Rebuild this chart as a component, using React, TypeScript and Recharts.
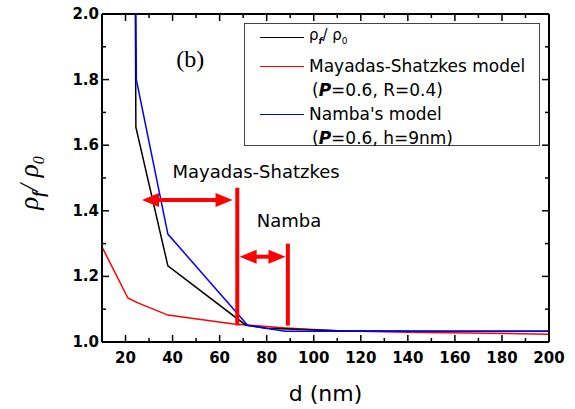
import React from 'react';
import { LineChart, Line, XAxis, YAxis, Legend, ReferenceLine, ReferenceDot } from 'recharts';

// measured ratio rho_f / rho_0
const measD = [23.8, 24.4, 38, 71, 80, 110, 150, 200];
const measRho = [2.6, 1.655, 1.232, 1.052, 1.042, 1.034, 1.033, 1.033];

// Mayadas-Shatzkes model (p=0.6, R=0.4)
const msD = [10, 21, 25, 38, 66, 88, 110, 140, 200];
const msRho = [1.29, 1.134, 1.12, 1.082, 1.055, 1.043, 1.034, 1.03, 1.024];

// Namba's model (p=0.6, h=9nm)
const nbD = [23.8, 24.6, 38, 72, 88, 110, 200];
const nbRho = [2.6, 1.8, 1.329, 1.05, 1.033, 1.033, 1.033];

const xTicks = [10, 20, 30, 40, 50, 60, 70, 80, 90, 100, 110, 120, 130, 140, 150, 160, 170, 180, 190, 200];
const yTicks = [1.0, 1.1, 1.2, 1.3, 1.4, 1.5, 1.6, 1.7, 1.8, 1.9, 2.0];

// thickness limits marked on the plot
const msLimit = 67.5;
const msLimitTop = 1.47;
const nbLimit = 89;
const nbLimitTop = 1.3;
const limitBase = 1.05;
const msArrow = { from: 27, to: 65.5, y: 1.433 };
const nbArrow = { from: 68.5, to: 88, y: 1.26 };

const toRows = (xs: number[], ys: number[]) => xs.map((d, i) => ({ d, v: ys[i] }));
const measData = toRows(measD, measRho);
const msData = toRows(msD, msRho);
const nbData = toRows(nbD, nbRho);

const RED = '#ff0000';
const SANS = '"DejaVu Sans", sans-serif';

const isMajorX = (v: number) => Math.round(v) % 20 === 0;
const isMajorY = (v: number) => Math.round(v * 10) % 2 === 0;

// tickSize and tickMargin are 0, so x/y sit on the plot edge; ticks point inward
function makeTick(side: 'bottom' | 'top' | 'left' | 'right', labels: boolean) {
  return function Tick(props: any) {
    const { x, y, payload } = props;
    const v = payload.value as number;
    const major = side === 'bottom' || side === 'top' ? isMajorX(v) : isMajorY(v);
    const len = major ? 7 : 4;
    let x2 = x;
    let y2 = y;
    if (side === 'bottom') y2 = y - len;
    else if (side === 'top') y2 = y + len;
    else if (side === 'left') x2 = x + len;
    else x2 = x - len;
    let label = null;
    if (labels && major) {
      if (side === 'bottom' && v !== 10)
        label = <text x={x} y={y + 21} textAnchor="middle" fontFamily={SANS} fontWeight="bold" fontSize={15} fill="#000">{v}</text>;
      if (side === 'left')
        label = <text x={x - 3} y={y + 5} textAnchor="end" fontFamily={SANS} fontWeight="bold" fontSize={15} fill="#000">{v.toFixed(1)}</text>;
    }
    return (
      <g>
        <line x1={x} y1={y} x2={x2} y2={y2} stroke="#000" strokeWidth={1.5} />
        {label}
      </g>
    );
  };
}

function DoubleArrow(props: any) {
  const { x1, y1, x2 } = props;
  const len = 17;
  const hw = 7;
  return (
    <g>
      <line x1={x1 + len - 2} y1={y1} x2={x2 - len + 2} y2={y1} stroke={RED} strokeWidth={4} />
      <polygon points={`${x1},${y1} ${x1 + len},${y1 - hw} ${x1 + len},${y1 + hw}`} fill={RED} />
      <polygon points={`${x2},${y1} ${x2 - len},${y1 - hw} ${x2 - len},${y1 + hw}`} fill={RED} />
    </g>
  );
}

function LegendBox() {
  const row = (color: string | null, label: React.ReactNode, key: string) => (
    <div key={key} style={{ display: 'flex', alignItems: 'center', height: 24 }}>
      <div style={{ width: 44, height: 0, borderTop: color ? `1.5px solid ${color}` : 'none', marginRight: color ? 5 : 8 }} />
      <span>{label}</span>
    </div>
  );
  const p = <b style={{ fontStyle: 'italic', fontFamily: SANS }}>P</b>;
  return (
    <div
      style={{
        width: 296, height: 123, border: '1px solid #444', background: '#fff',
        fontFamily: SANS, fontSize: 17, color: '#000', padding: '1px 0 0 15px', boxSizing: 'border-box',
        lineHeight: '24px',
      }}
    >
      {row('#000', <span style={{ fontSize: 15 }}>ρ<sub style={{ fontSize: 9, fontStyle: 'italic', fontWeight: 'bold' }}>f</sub>/ ρ<sub style={{ fontSize: 9 }}>0</sub></span>, 'a')}
      <div style={{ height: 5 }} />
      {row(RED, 'Mayadas-Shatzkes model', 'b')}
      {row(null, <span>({p}=0.6, R=0.4)</span>, 'c')}
      {row('#0000ff', "Namba's model", 'd')}
      {row(null, <span>({p}=0.6, h=9nm)</span>, 'e')}
    </div>
  );
}

function YTitle(props: any) {
  const { viewBox } = props;
  const cx = viewBox.x + 38;
  const cy = viewBox.y + viewBox.height / 2 + 5;
  return (
    <text
      transform={`translate(${cx},${cy}) rotate(-90)`}
      textAnchor="middle"
      fontFamily='"Liberation Serif", serif'
      fontStyle="italic"
      fontSize={27}
      fill="#000"
    >
      ρ<tspan fontSize={16} dy={6} fontWeight="bold">f</tspan>
      <tspan dy={-6}>/ ρ</tspan>
      <tspan fontSize={16} dy={6}>0</tspan>
    </text>
  );
}

export default function App() {
  const axisLine = { stroke: '#000', strokeWidth: 2 };
  return (
    <div style={{ position: 'absolute', left: 0, top: 0, background: '#fff' }}>
      <LineChart width={575} height={409} data={msData} margin={{ top: 13, right: 25, bottom: 0, left: 0 }}>
        <XAxis xAxisId="top" orientation="top" type="number" dataKey="d" domain={[10, 200]} ticks={xTicks} interval={0}
          height={1} tick={makeTick('top', false)} axisLine={axisLine} tickSize={0} tickMargin={0} allowDataOverflow />
        <YAxis yAxisId="right" orientation="right" type="number" dataKey="v" domain={[1, 2]} ticks={yTicks} interval={0}
          width={1} tick={makeTick('right', false)} axisLine={axisLine} tickSize={0} tickMargin={0} allowDataOverflow />

        <XAxis xAxisId="main" type="number" dataKey="d" domain={[10, 200]} ticks={xTicks} interval={0}
          height={67} tick={makeTick('bottom', true)} axisLine={axisLine} tickSize={0} tickMargin={0}
          allowDataOverflow
          label={{ value: 'd (nm)', position: 'insideBottom', offset: 8, style: { fontFamily: SANS, fontSize: 22, fill: '#000' } }} />
        <YAxis yAxisId="main" type="number" dataKey="v" domain={[1, 2]} ticks={yTicks} interval={0}
          width={102} tick={makeTick('left', true)} axisLine={axisLine} tickSize={0} tickMargin={0}
          allowDataOverflow label={<YTitle />} />

        <Line xAxisId="main" yAxisId="main" data={msData} dataKey="v" stroke={RED} strokeWidth={1.5} dot={false} isAnimationActive={false} />
        <Line xAxisId="main" yAxisId="main" data={measData} dataKey="v" stroke="#000" strokeWidth={1.5} dot={false} isAnimationActive={false} />
        <Line xAxisId="main" yAxisId="main" data={nbData} dataKey="v" stroke="#0000ff" strokeWidth={1.5} dot={false} isAnimationActive={false} />

        <ReferenceLine xAxisId="main" yAxisId="main" segment={[{ x: msLimit, y: limitBase }, { x: msLimit, y: msLimitTop }]} stroke={RED} strokeWidth={4} />
        <ReferenceLine xAxisId="main" yAxisId="main" segment={[{ x: nbLimit, y: limitBase }, { x: nbLimit, y: nbLimitTop }]} stroke={RED} strokeWidth={4} />
        <ReferenceLine xAxisId="main" yAxisId="main" segment={[{ x: msArrow.from, y: msArrow.y }, { x: msArrow.to, y: msArrow.y }]} shape={<DoubleArrow />} />
        <ReferenceLine xAxisId="main" yAxisId="main" segment={[{ x: nbArrow.from, y: nbArrow.y }, { x: nbArrow.to, y: nbArrow.y }]} shape={<DoubleArrow />} />

        <ReferenceDot xAxisId="main" yAxisId="main" x={75.5} y={1.52} r={0} fill="none" stroke="none"
          label={{ value: 'Mayadas-Shatzkes', position: 'center', style: { fontFamily: SANS, fontSize: 18, fill: '#000' } }} />
        <ReferenceDot xAxisId="main" yAxisId="main" x={89.5} y={1.37} r={0} fill="none" stroke="none"
          label={{ value: 'Namba', position: 'center', style: { fontFamily: SANS, fontSize: 18, fill: '#000' } }} />
        <ReferenceDot xAxisId="main" yAxisId="main" x={47.5} y={1.865} r={0} fill="none" stroke="none"
          label={{ value: '(b)', position: 'center', style: { fontFamily: '"Liberation Serif", serif', fontSize: 24, fill: '#000' } }} />

        <Legend layout="vertical" align="center" verticalAlign="middle" content={<LegendBox />}
          wrapperStyle={{ top: 23, left: 244, width: 296, height: 123 }} />
      </LineChart>
    </div>
  );
}
